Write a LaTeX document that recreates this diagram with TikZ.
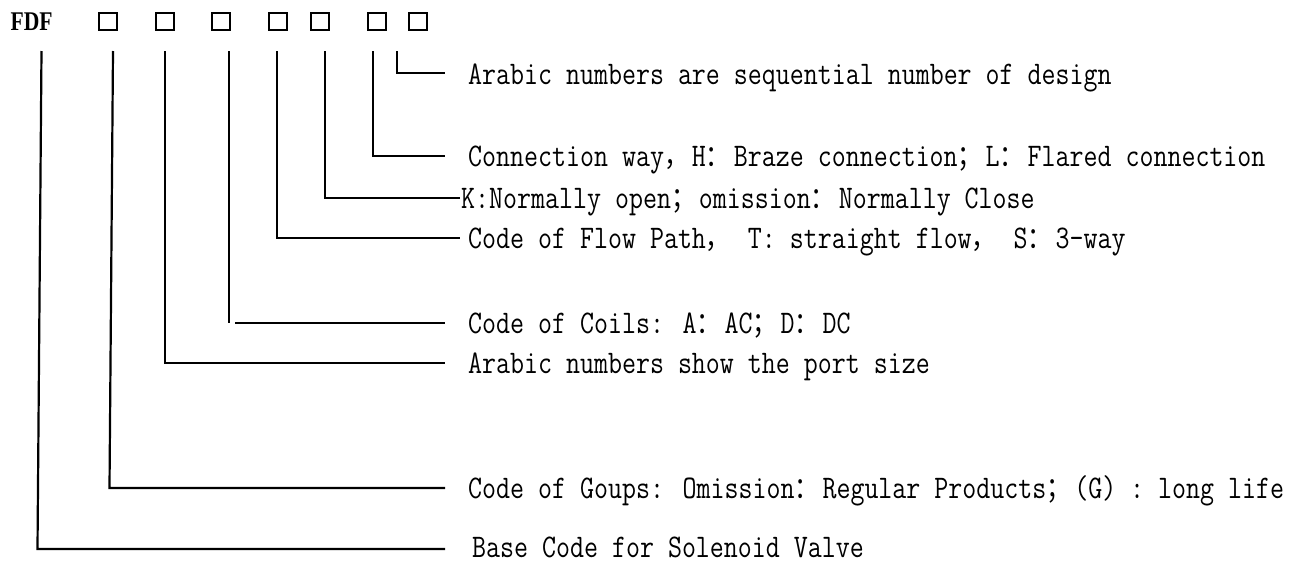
\documentclass[tikz,border=0pt]{standalone}
\usepackage{graphicx}
\usepackage{fontspec}
% condensed serif typewriter for the explanations, CJK font for full-width punctuation
\newfontfamily\cjk[Scale=0.9]{Noto Sans CJK SC}
\newfontfamily\codefont{Liberation Serif}
% a full-width sign takes two monospace cells
\newcommand\fw[1]{\makebox[\dimexpr2\fontcharwd\font`M\relax][l]{\cjk #1}}
\newcommand\squeeze[1]{\scalebox{0.823}[1]{#1}}

\begin{document}
\begin{tikzpicture}[x=1pt, y=-1pt,
  lead/.style={line width=2.2pt},
  slot/.style={draw, line width=2pt, minimum width=18pt, minimum height=17pt, inner sep=0pt},
  lbl/.style={font=\fontsize{33}{40}\selectfont\ttfamily\addfontfeatures{FakeBold=0.6}, anchor=base west, inner sep=0pt},
  codestyle/.style={font=\fontsize{27}{30}\selectfont\codefont\bfseries, anchor=base west, inner sep=0pt}]

\useasboundingbox (0,0) rectangle (1298,563);

% model code and its character slots
\node[codestyle] (code) at (10.5,30) {\scalebox{0.8}[1]{FDF}};
\node[slot] (s1) at (108,21.5) {};
\node[slot] (s2) at (165,21.5) {};
\node[slot] (s3) at (221,21.5) {};
\node[slot] (s4) at (278,21.5) {};
\node[slot] (s5) at (320,21.5) {};
\node[slot] (s6) at (377,21.5) {};
\node[slot] (s7) at (418,21.5) {};

% explanations
\node[lbl] (n1) at (468,84)  {\squeeze{Arabic numbers are sequential number of design}};
\node[lbl] (n2) at (468,166) {\squeeze{Connection way\fw{，}H\fw{：}Braze connection\fw{；}L\fw{：}Flared connection}};
\node[lbl] (n3) at (461,208) {\squeeze{K:Normally open\fw{；}omission\fw{：}Normally Close}};
\node[lbl] (n4) at (468,248) {\squeeze{Code of Flow Path\fw{，} T: straight flow\fw{，} S\fw{：}3-way}};
\node[lbl] (n5) at (468,333) {\squeeze{Code of Coils: A\fw{：}AC\fw{；}D\fw{：}DC}};
\node[lbl] (n6) at (468,373) {\squeeze{Arabic numbers show the port size}};
\node[lbl] (n7) at (468,498) {\squeeze{Code of Goups: Omission\fw{：}Regular Products\fw{；}(G) : long life}};
\node[lbl] (n8) at (472,557) {\squeeze{Base Code for Solenoid Valve}};

% leader start points, corners and ends
\coordinate (t1) at (397,51);  \coordinate (e1) at (445,73);
\coordinate (t2) at (373,51);  \coordinate (e2) at (445,156);
\coordinate (t3) at (325,51);  \coordinate (e3) at (460,198);
\coordinate (t4) at (277,51);  \coordinate (e4) at (460,238);
\coordinate (t5) at (229,51);  \coordinate (c5) at (229,323);
\coordinate (b5) at (235,323); \coordinate (e5) at (445,323);
\coordinate (t6) at (165,51);  \coordinate (e6) at (445,363);
\coordinate (t7) at (113,51);  \coordinate (c7) at (109.5,488); \coordinate (e7) at (445,488);
\coordinate (t8) at (41.5,51); \coordinate (c8) at (37.5,549);  \coordinate (e8) at (445,549);

\draw[lead] (t1) |- (e1);
\draw[lead] (t2) |- (e2);
\draw[lead] (t3) |- (e3);
\draw[lead] (t4) |- (e4);
\draw[lead] (t5) -- (c5);
\draw[lead] (b5) -- (e5);
\draw[lead] (t6) |- (e6);
\draw[lead] (t7) -- (c7) -- (e7);
\draw[lead] (t8) -- (c8) -- (e8);
\end{tikzpicture}
\end{document}
